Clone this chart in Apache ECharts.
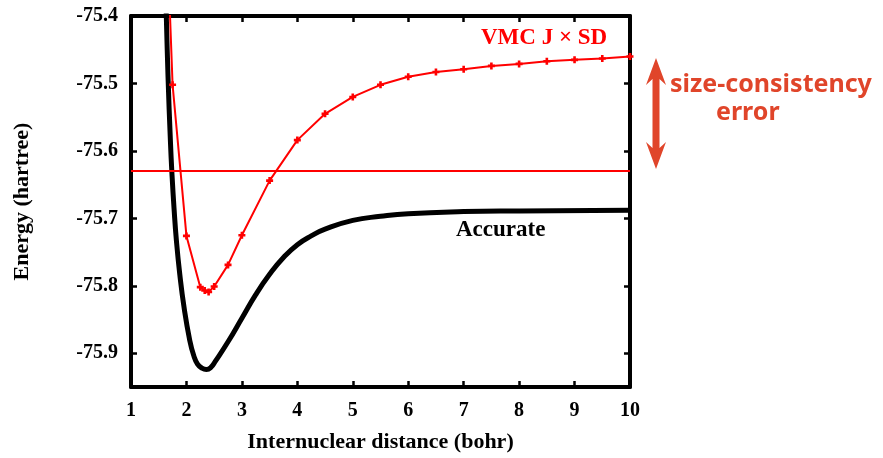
<!DOCTYPE html>
<html>
<head>
<meta charset="utf-8">
<script src="https://cdn.jsdelivr.net/npm/echarts@6/dist/echarts.min.js"></script>
<style>
  html, body { margin: 0; padding: 0; background: #fff; }
  #main { width: 883px; height: 458px; }
</style>
</head>
<body>
<div id="main"></div>
<script>
// VMC J x SD points (bohr, hartree)
const vmcX = [1.5, 1.75, 2.0, 2.25, 2.33, 2.4, 2.5, 2.75, 3.0, 3.5, 4.0, 4.5, 5.0, 5.5, 6.0, 6.5, 7.0, 7.5, 8.0, 8.5, 9.0, 9.5, 10];
const vmcE = [-74.95, -75.502, -75.726, -75.802, -75.807, -75.809, -75.801, -75.769, -75.725, -75.644, -75.584, -75.545, -75.52, -75.502, -75.49, -75.483, -75.479, -75.474, -75.471, -75.467, -75.465, -75.463, -75.46];
// accurate curve
const accX = [1.6, 1.638, 1.667, 1.711, 1.74, 1.776, 1.82, 1.88, 1.957, 2.06, 2.13, 2.2, 2.28, 2.36, 2.44, 2.52, 2.75, 3.0, 3.25, 3.5, 3.75, 4.0, 4.25, 4.5, 5.0, 5.5, 6.0, 7.0, 8.0, 10];
const accE = [-75.3, -75.404, -75.488, -75.586, -75.636, -75.685, -75.734, -75.783, -75.832, -75.881, -75.903, -75.916, -75.922, -75.924, -75.921, -75.912, -75.883, -75.848, -75.813, -75.783, -75.758, -75.739, -75.726, -75.716, -75.703, -75.697, -75.693, -75.69, -75.689, -75.688];
// sum of separated atoms
const separatedE = -75.632;
const yTicks = [-75.9, -75.8, -75.7, -75.6, -75.5, -75.4];

const serif = '"Liberation Serif", "Times New Roman", serif';
const orange = '#e0452a';

const chart = echarts.init(document.getElementById('main'));

const axisCommon = {
  axisLine: { show: true, onZero: false, lineStyle: { color: '#000', width: 4 } },
  axisTick: { show: true, inside: true, length: 6, lineStyle: { color: '#000', width: 2.5 } },
  splitLine: { show: false },
};

chart.setOption({
  animation: false,
  grid: { left: 131, right: 253, top: 16, bottom: 69 },
  xAxis: [
    {
      ...axisCommon,
      type: 'value',
      position: 'bottom',
      min: 1,
      max: 10,
      interval: 1,
      name: 'Internuclear distance (bohr)',
      nameLocation: 'middle',
      nameGap: 44,
      nameTextStyle: { fontFamily: serif, fontWeight: 'bold', fontSize: 22, color: '#000' },
      axisLabel: { margin: 14, fontFamily: serif, fontWeight: 'bold', fontSize: 20, color: '#000' },
    },
    {
      ...axisCommon,
      type: 'value',
      position: 'top',
      min: 1,
      max: 10,
      interval: 1,
      axisLabel: { show: false },
    },
  ],
  yAxis: [
    {
      ...axisCommon,
      type: 'value',
      position: 'left',
      min: -75.95,
      max: -75.4,
      name: 'Energy (hartree)',
      nameLocation: 'middle',
      nameRotate: 90,
      nameGap: 98,
      nameTextStyle: { fontFamily: serif, fontWeight: 'bold', fontSize: 22, color: '#000' },
      axisTick: { ...axisCommon.axisTick, customValues: yTicks },
      axisLabel: {
        customValues: yTicks,
        margin: 13,
        fontFamily: serif,
        fontWeight: 'bold',
        fontSize: 20,
        color: '#000',
        formatter: (v) => v.toFixed(1),
      },
    },
    {
      ...axisCommon,
      type: 'value',
      position: 'right',
      min: -75.95,
      max: -75.4,
      axisTick: { ...axisCommon.axisTick, customValues: yTicks },
      axisLabel: { show: false },
    },
  ],
  series: [
    {
      name: 'Accurate',
      type: 'line',
      data: accX.map((x, i) => [x, accE[i]]),
      smooth: 0.5,
      showSymbol: false,
      clip: true,
      lineStyle: { color: '#000', width: 5 },
      z: 3,
    },
    {
      name: 'VMC J x SD',
      type: 'line',
      data: vmcX.map((x, i) => [x, vmcE[i]]),
      symbol: 'path://M-1.3,-3.5H1.3V-1.3H3.5V1.3H1.3V3.5H-1.3V1.3H-3.5V-1.3H-1.3Z',
      symbolSize: 7,
      clip: true,
      itemStyle: { color: '#ff0000' },
      lineStyle: { color: '#ff0000', width: 2 },
      z: 4,
      markLine: {
        silent: true,
        symbol: 'none',
        label: { show: false },
        lineStyle: { color: '#ff0000', width: 2, type: 'solid' },
        data: [{ yAxis: separatedE }],
      },
    },
  ],
  graphic: [
    {
      type: 'text',
      left: 481,
      top: 27,
      style: { text: 'VMC J × SD', fill: '#ff0000', font: 'bold 23px ' + serif },
    },
    {
      type: 'text',
      left: 456,
      top: 219,
      style: { text: 'Accurate', fill: '#000', font: 'bold 23px ' + serif },
    },
    {
      type: 'polygon',
      shape: {
        points: [
          [656, 58], [666, 85], [659.5, 79], [659.5, 148], [666, 142],
          [656, 169], [646, 142], [652.5, 148], [652.5, 79], [646, 85],
        ],
      },
      style: { fill: orange },
    },
    {
      type: 'text',
      left: 670,
      top: 72,
      style: { text: 'size-consistency', fill: orange, font: 'bold 25px "Noto Sans", sans-serif' },
    },
    {
      type: 'text',
      left: 716,
      top: 100,
      style: { text: 'error', fill: orange, font: 'bold 25px "Noto Sans", sans-serif' },
    },
  ],
});
</script>
</body>
</html>
